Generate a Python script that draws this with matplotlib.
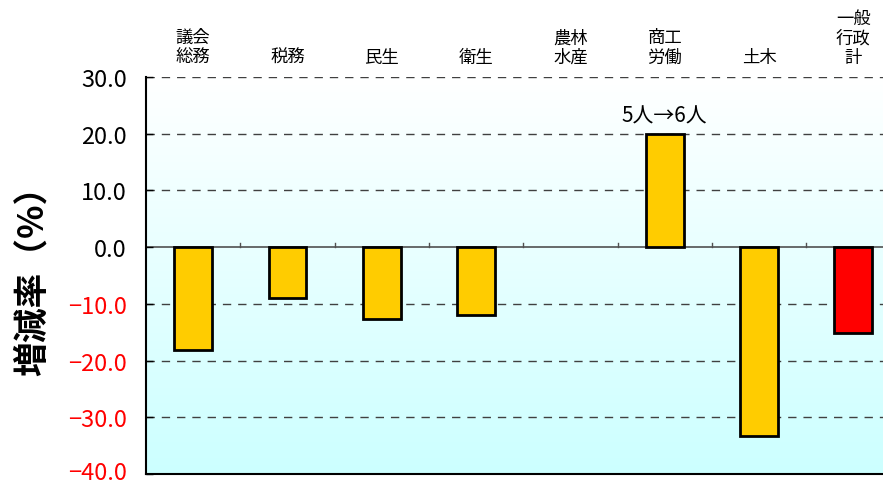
import numpy as np
import matplotlib
matplotlib.use("Agg")
import matplotlib.pyplot as plt
from matplotlib.transforms import ScaledTranslation

plt.rcParams['font.family'] = ['Noto Sans CJK JP', 'DejaVu Sans']

# 部門別の職員数増減率
categories = ['議会\n総務', '税務', '民生', '衛生', '農林\n水産', '商工\n労働', '土木', '一般\n行政\n計']
rates = [-18.2, -8.9, -12.7, -12.0, 0.0, 20.0, -33.3, -15.2]
bar_colors = ['#FFCC00'] * 7 + ['#FF0000']
yticks = [30, 20, 10, 0, -10, -20, -30, -40]
note_text = '5人→6人'
note_index = 5

fig = plt.figure(figsize=(8.83, 4.85), dpi=100)
ax = fig.add_axes([0.1654, 0.0206, 0.8346, 0.8186])

n = len(categories)
x = np.arange(n)
# 右端は最後の区画の途中で切れる
x_right = n - 0.685
ax.set_xlim(-0.5, x_right)
ax.set_ylim(-40, 30)

# 背景のグラデーション（上：白 → 下：水色）
grad = np.linspace(0, 1, 256).reshape(-1, 1)
top = np.array([1.0, 1.0, 1.0])
bottom = np.array([0.80, 1.0, 1.0])
img = top + (bottom - top) * grad[..., None]
ax.imshow(img, extent=[-0.5, x_right, -40, 30], aspect='auto', zorder=0)

# 補助線
for t in yticks:
    if t == 0 or t == -40:
        continue
    ax.axhline(t, color='#404040', lw=1.0, ls=(0, (6, 5)), zorder=1)
ax.axhline(0, color='#505050', lw=1.2, zorder=1)
for b in np.arange(0.5, n - 0.5, 1.0):
    ax.plot([b, b], [0, 0.7], color='#505050', lw=1.0, zorder=1)

for xi, v, c in zip(x, rates, bar_colors):
    if v == 0:
        continue
    ax.bar(xi, v, width=0.40, color=c, edgecolor='black', linewidth=2.0, zorder=3)

ax.text(x[note_index], rates[note_index] + 1.3, note_text, ha='center', va='bottom', fontsize=15)

# 部門名（上部）
for xi, label in zip(x, categories):
    ax.text(xi, 32.0, label, ha='center', va='bottom', fontsize=12.5, linespacing=1.1, clip_on=False)

ax.set_yticks(yticks)
ax.set_yticklabels([f'{t:.1f}'.replace('-', '−') for t in yticks], fontsize=17)
for lbl, t in zip(ax.get_yticklabels(), yticks):
    lbl.set_color('red' if t < 0 else 'black')
ax.tick_params(axis='y', direction='in', length=5, width=1.0, pad=14)
ax.set_xticks([])
# 一番下のラベルが切れないよう少し上へ
low = ax.get_yticklabels()[-1]
low.set_transform(low.get_transform() + ScaledTranslation(0, 3 / 72, fig.dpi_scale_trans))

ax.spines['top'].set_visible(False)
ax.spines['right'].set_visible(False)
ax.spines['left'].set_linewidth(1.5)
ax.spines['bottom'].set_linewidth(1.5)

ax.set_ylabel('増減率（%）', fontsize=25, fontweight='bold')
ax.yaxis.set_label_coords(-0.13, 0.51)

fig.savefig('out.png', dpi=100)
